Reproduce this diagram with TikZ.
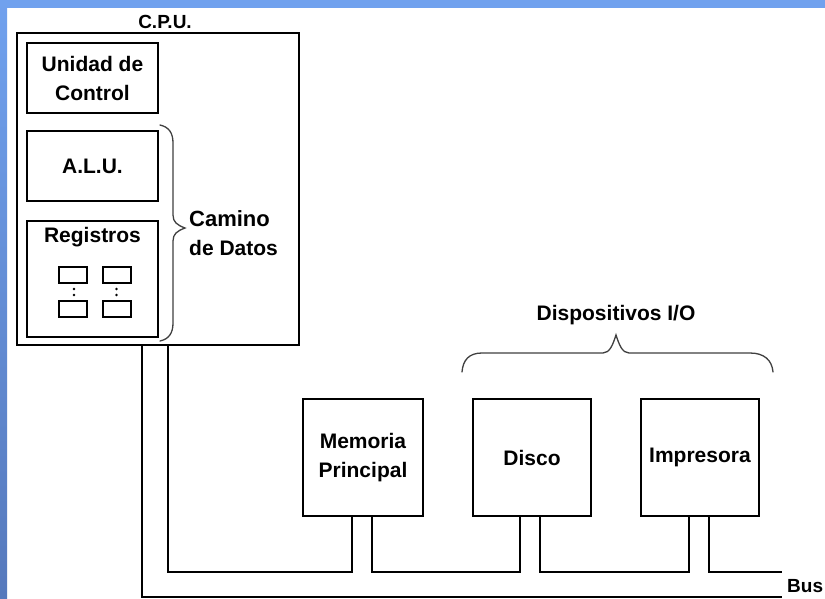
\documentclass[tikz,border=0pt]{standalone}
\usepackage{fontspec}
\setmainfont{Liberation Sans}
\definecolor{bandtop}{RGB}{112,161,238}
\definecolor{bandbot}{RGB}{86,121,188}
\newcommand\dgfont{\bfseries\fontsize{21}{29}\selectfont}
\newcommand\dgsmall{\bfseries\fontsize{19}{24}\selectfont}
\tikzset{
  box/.style={draw, line width=1.8pt, inner sep=0pt, outer sep=0pt, font=\dgfont, align=center},
  rbox/.style={draw, line width=2pt, inner sep=0pt, outer sep=0pt, minimum width=28pt, minimum height=16pt},
  wire/.style={line width=1.8pt},
  bracepath/.style={line width=1.3pt, black!75, line cap=round},
  txt/.style={font=\dgfont, inner sep=0pt, align=center}
}
\begin{document}
\begin{tikzpicture}[x=1pt,y=-1pt]
\useasboundingbox (0,0) rectangle (825,598);
\fill[white] (0,0) rectangle (825,598);
\fill[bandtop] (0,0) rectangle (825,8);
\shade[top color=bandtop, bottom color=bandbot] (0,0) rectangle (7,598);

% CPU
\node[box, minimum width=282pt, minimum height=312pt] (cpu) at (158,189) {};
\node[txt, font=\dgsmall] (cpulbl) at (165,22) {C.P.U.};
\node[box, minimum width=131pt, minimum height=70pt] (uc) at (92.5,78) {Unidad de\\Control};
\node[box, minimum width=131pt, minimum height=70pt] (alu) at (92.5,166) {A.L.U.};
\node[box, minimum width=131pt, minimum height=116pt] (reg) at (92.5,279) {};
\node[txt] (reglbl) at (92.5,237) {Registros};
\node[rbox] (r1) at (73,275) {};
\node[rbox] (r2) at (116.5,275) {};
\node[rbox] (r3) at (73,309) {};
\node[rbox] (r4) at (116.5,309) {};
\fill (74,289) circle[radius=1.3pt] (74,295) circle[radius=1.3pt]
      (116.5,289) circle[radius=1.3pt] (116.5,295) circle[radius=1.3pt];

% Camino de Datos brace
\draw[bracepath] (160,125) .. controls (169,127) and (173,133) .. (173,143)
  -- (173,215) .. controls (173,222) and (177,225) .. (185,228)
  .. controls (177,231) and (173,234) .. (173,241)
  -- (173,323) .. controls (173,333) and (169,339) .. (160,341);
\node[txt, anchor=west, align=left] (camino) at (189,233) {\fontsize{22}{29}\selectfont Camino\\de Datos};

% Devices
\node[box, minimum width=120pt, minimum height=117pt] (mem) at (363,457.5) {Memoria\\Principal};
\node[box, minimum width=118pt, minimum height=117pt] (disco) at (532,457.5) {Disco};
\node[box, minimum width=118pt, minimum height=117pt] (imp) at (700,457.5) {\raisebox{-3pt}{Impresora}};

% I/O brace
\draw[bracepath] (462,372) .. controls (463,360) and (469,353) .. (482,353)
  -- (603,353) .. controls (610,353) and (613,344) .. (616,335)
  .. controls (619,344) and (622,353) .. (629,353)
  -- (750,353) .. controls (764,353) and (772,360) .. (773,372);
\node[txt] (io) at (616,315) {Dispositivos I/O};

% Bus
\coordinate (busL) at (782,597);
\coordinate (busU) at (782,572);
\draw[wire] ([xshift=125pt]cpu.south west) |- (busL);
\draw[wire] ([xshift=151pt]cpu.south west) -- ++(0,227) -| ([xshift=49pt]mem.south west);
\draw[wire] ([xshift=69pt]mem.south west) -- ++(0,56) -| ([xshift=47pt]disco.south west);
\draw[wire] ([xshift=67pt]disco.south west) -- ++(0,56) -| ([xshift=48pt]imp.south west);
\draw[wire] ([xshift=68pt]imp.south west) |- (busU);
\node[txt, anchor=west, font=\dgsmall] (bus) at (787,586) {Bus};
\end{tikzpicture}
\end{document}
